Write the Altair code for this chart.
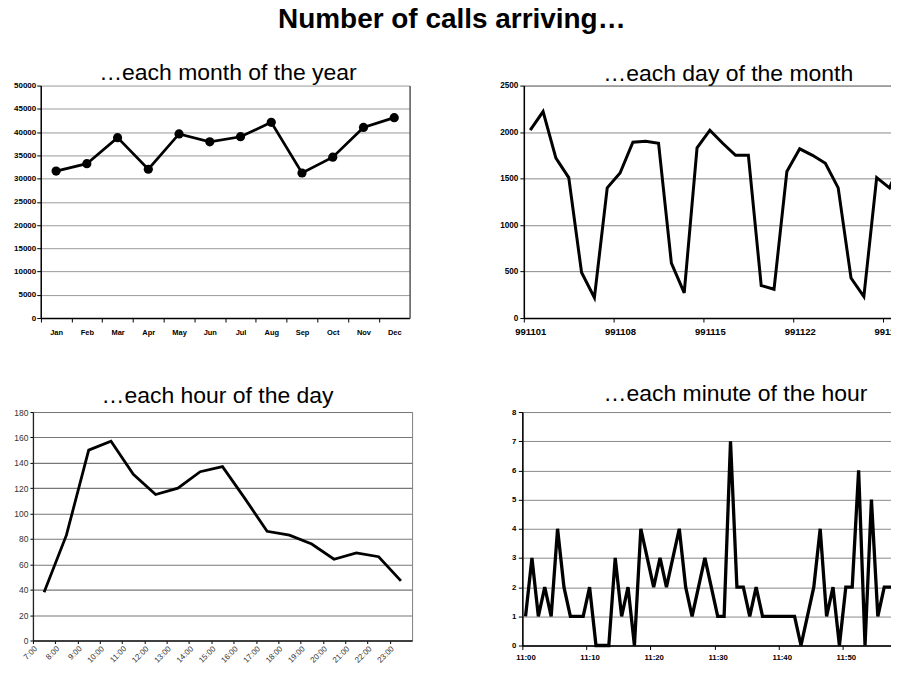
import json
import altair as alt
import pandas as pd

FONT = "Liberation Sans"

# ---------------- data ----------------
MONTHS = ["Jan", "Feb", "Mar", "Apr", "May", "Jun", "Jul", "Aug", "Sep", "Oct", "Nov", "Dec"]
MONTH_CALLS = [31600, 33200, 38800, 32000, 39600, 37900, 39000, 42100, 31200, 34600, 41000, 43100]

DAY_NUMBERS = list(range(1, 31))
DAY_CALLS = [2020, 2220, 1720, 1510, 490, 220, 1400, 1560, 1890, 1900,
             1880, 590, 270, 1830, 2020, 1880, 1750, 1750, 350, 310,
             1575, 1820, 1750, 1665, 1400, 430, 230, 1510, 1400, 1730]
DAY_TICK_DAYS = [1, 8, 15, 22, 29]
DAY_TICK_LABELS = ["991101", "991108", "991115", "991122", "991129"]

HOURS = ["7:00", "8:00", "9:00", "10:00", "11:00", "12:00", "13:00", "14:00", "15:00",
         "16:00", "17:00", "18:00", "19:00", "20:00", "21:00", "22:00", "23:00"]
HOUR_CALLS = [38, 83, 150, 157, 131, 115, 120, 133, 137, 112, 86, 83, 76, 64, 69, 66, 47]

MINUTES = list(range(60))
MINUTE_CALLS = [1, 3, 1, 2, 1, 4, 2, 1, 1, 1,
                2, 0, 0, 0, 3, 1, 2, 0, 4, 3,
                2, 3, 2, 3, 4, 2, 1, 2, 3, 2,
                1, 1, 7, 2, 2, 1, 2, 1, 1, 1,
                1, 1, 1, 0, 1, 2, 4, 1, 2, 0,
                2, 2, 6, 0, 5, 1, 2, 2, 2, 5]
MINUTE_TICK_MINUTES = [0, 10, 20, 30, 40, 50]
MINUTE_TICK_LABELS = ["11:00", "11:10", "11:20", "11:30", "11:40", "11:50"]

MAIN_TITLE = "Number of calls arriving…"
TITLE_A = "…each month of the year"
TITLE_B = "…each day of the month"
TITLE_C = "…each hour of the day"
TITLE_D = "…each minute of the hour"


def panel_title(text, offset, dx):
    return alt.TitleParams(text, font=FONT, fontSize=23, fontWeight="normal", color="black",
                           anchor="middle", frame="group", baseline="top",
                           offset=offset, dx=dx)


def y_axis(values, size, weight, color, tick, pad, grid_color, offset=0):
    return alt.Axis(values=values, format="d", title=None, grid=True, gridColor=grid_color,
                    gridWidth=1, tickSize=tick, tickColor="black", tickWidth=1,
                    domainColor="black", domainWidth=1.5, labelFont=FONT, labelFontSize=size,
                    labelFontWeight=weight, labelColor=color, labelPadding=pad, offset=offset)


# ---------------- A: months ----------------
# panel A's plot sits 7.8px right of the left column's origin
A_INSET = 7.8
WA, HA = 377.5, 233
stepA = (WA - A_INSET) / len(MONTHS)
dfA = pd.DataFrame({"pos": [i + 0.5 for i in range(len(MONTHS))],
                    "month": MONTHS, "calls": MONTH_CALLS})
exprA = f"{json.dumps(MONTHS)}[datum.value]"
xA = alt.X("pos:Q",
           scale=alt.Scale(domain=[0, len(MONTHS)], range=[A_INSET, WA], nice=False, zero=False),
           axis=alt.Axis(values=list(range(len(MONTHS))), labelExpr=exprA,
                         labelOffset=stepA / 2, title=None, grid=False, tickSize=4,
                         tickColor="black", domainColor="black", domainWidth=1.5,
                         labelFont=FONT, labelFontSize=7.5, labelFontWeight="bold",
                         labelColor="black", labelPadding=6.5, labelOverlap=False,
                         labelFlush=False))
scaleYA = alt.Scale(domain=[0, 50000], nice=False)
lineA = alt.Chart(dfA).mark_line(color="black", strokeWidth=2.7).encode(
    x=xA,
    y=alt.Y("calls:Q", scale=scaleYA,
            axis=y_axis(list(range(0, 50001, 5000)), 8, "bold", "black", 4, 1, "#9a9a9a",
                        offset=-A_INSET)),
)
dotsA = alt.Chart(dfA).mark_circle(color="black", size=85, opacity=1).encode(
    x=xA, y=alt.Y("calls:Q", scale=scaleYA, axis=None))
borderA = alt.Chart(dfA).mark_point(opacity=0).encode(
    x=xA,
    y=alt.Y("calls:Q", scale=scaleYA,
            axis=alt.Axis(orient="right", labels=False, ticks=False, grid=False, title=None,
                          domainColor="#555", domainWidth=1.5)))
chartA = alt.layer(lineA, dotsA, borderA).resolve_axis(y="independent").properties(
    width=WA, height=HA, title=panel_title(TITLE_A, -3.5, 6.7),
    view=alt.ViewBackground(stroke="transparent"))

# ---------------- B: days ----------------
stepB = 12.86
WB, HB = stepB * len(DAY_NUMBERS), 233
dfB = pd.DataFrame({"day": DAY_NUMBERS, "calls": DAY_CALLS})
tickB = [d - 0.5 for d in DAY_TICK_DAYS]
exprB = f"{json.dumps(DAY_TICK_LABELS)}[indexof({json.dumps(tickB)}, datum.value)]"
chartB = alt.Chart(dfB).mark_line(color="black", strokeWidth=3).encode(
    x=alt.X("day:Q", scale=alt.Scale(domain=[0.5, len(DAY_NUMBERS) + 0.5], nice=False, zero=False),
            axis=alt.Axis(values=tickB, labelExpr=exprB, labelOffset=stepB / 2, title=None,
                          grid=False, tickSize=4, tickColor="black", domainColor="black",
                          domainWidth=1.5, labelFont=FONT, labelFontSize=9.5,
                          labelFontWeight="bold", labelColor="black", labelPadding=4.2,
                          labelOverlap=False, labelFlush=False)),
    y=alt.Y("calls:Q", scale=alt.Scale(domain=[0, 2500], nice=False),
            axis=y_axis(list(range(0, 2501, 500)), 8.2, "bold", "black", 4, 2, "#8a8a8a")),
).properties(width=WB, height=HB, title=panel_title(TITLE_B, -5.2, 12),
             view=alt.ViewBackground(stroke="#808080", strokeWidth=1))

# ---------------- C: hours ----------------
WC, HC = 380, 229
dfC = pd.DataFrame({"pos": [i + 0.5 for i in range(len(HOURS))], "hour": HOURS,
                    "calls": HOUR_CALLS})
exprC = f"{json.dumps(HOURS)}[datum.value]"
chartC = alt.Chart(dfC).mark_line(color="black", strokeWidth=2.8).encode(
    x=alt.X("pos:Q", scale=alt.Scale(domain=[0, len(HOURS)], nice=False, zero=False),
            axis=alt.Axis(values=list(range(len(HOURS))), labelExpr=exprC, labelAngle=315,
                          labelAlign="right", labelBaseline="top", title=None, grid=False,
                          tickSize=3, tickColor="black", domainColor="#222", domainWidth=1.3,
                          labelFont=FONT, labelFontSize=8, labelFontWeight="normal",
                          labelColor="#333", labelPadding=1, labelOverlap=False,
                          labelFlush=False)),
    y=alt.Y("calls:Q", scale=alt.Scale(domain=[0, 180], nice=False),
            axis=alt.Axis(values=list(range(0, 181, 20)), format="d", title=None, grid=True,
                          gridColor="#777", gridWidth=1.1, tickSize=3, tickColor="black",
                          domainColor="#222", domainWidth=1.3, labelFont=FONT,
                          labelFontSize=8.5, labelColor="#333", labelPadding=2)),
).properties(width=WC, height=HC, title=panel_title(TITLE_C, -0.3, -5),
             view=alt.ViewBackground(stroke="#808080", strokeWidth=1))

# ---------------- D: minutes ----------------
stepD = 6.42
WD, HD = stepD * len(MINUTES), 234
dfD = pd.DataFrame({"minute": MINUTES, "calls": MINUTE_CALLS})
tickD = [m - 0.5 for m in MINUTE_TICK_MINUTES]
exprD = f"{json.dumps(MINUTE_TICK_LABELS)}[indexof({json.dumps(tickD)}, datum.value)]"
chartD = alt.Chart(dfD).mark_line(color="black", strokeWidth=3.3).encode(
    x=alt.X("minute:Q", scale=alt.Scale(domain=[-0.5, len(MINUTES) - 0.5], nice=False, zero=False),
            axis=alt.Axis(values=tickD, labelExpr=exprD, labelOffset=stepD / 2, title=None,
                          grid=False, tickSize=4, tickColor="black", domainColor="black",
                          domainWidth=1.5, labelFont=FONT, labelFontSize=7.8,
                          labelFontWeight="bold", labelColor="black", labelPadding=4,
                          labelOverlap=False, labelFlush=False)),
    y=alt.Y("calls:Q", scale=alt.Scale(domain=[0, 8], nice=False),
            axis=y_axis(list(range(0, 9)), 7.8, "bold", "black", 4, 2.5, "#8a8a8a")),
).properties(width=WD, height=HD, title=panel_title(TITLE_D, 1.8, 21),
             view=alt.ViewBackground(stroke="#808080", strokeWidth=1))

row1 = alt.hconcat(chartA, chartB, spacing=89)
row2 = alt.hconcat(chartC, chartD, spacing=97.5)

chart = alt.vconcat(row1, row2, spacing=45.2).properties(
    title=alt.TitleParams(MAIN_TITLE, font=FONT, fontSize=28, fontWeight="bold", color="black",
                          anchor="middle", frame="bounds", baseline="top", offset=27.7,
                          dx=-10),
    padding={"left": 5, "top": -3, "right": -20, "bottom": -2},
).configure_view(strokeWidth=1)

chart.save("out.html", embed_options={"renderer": "svg", "actions": False})
